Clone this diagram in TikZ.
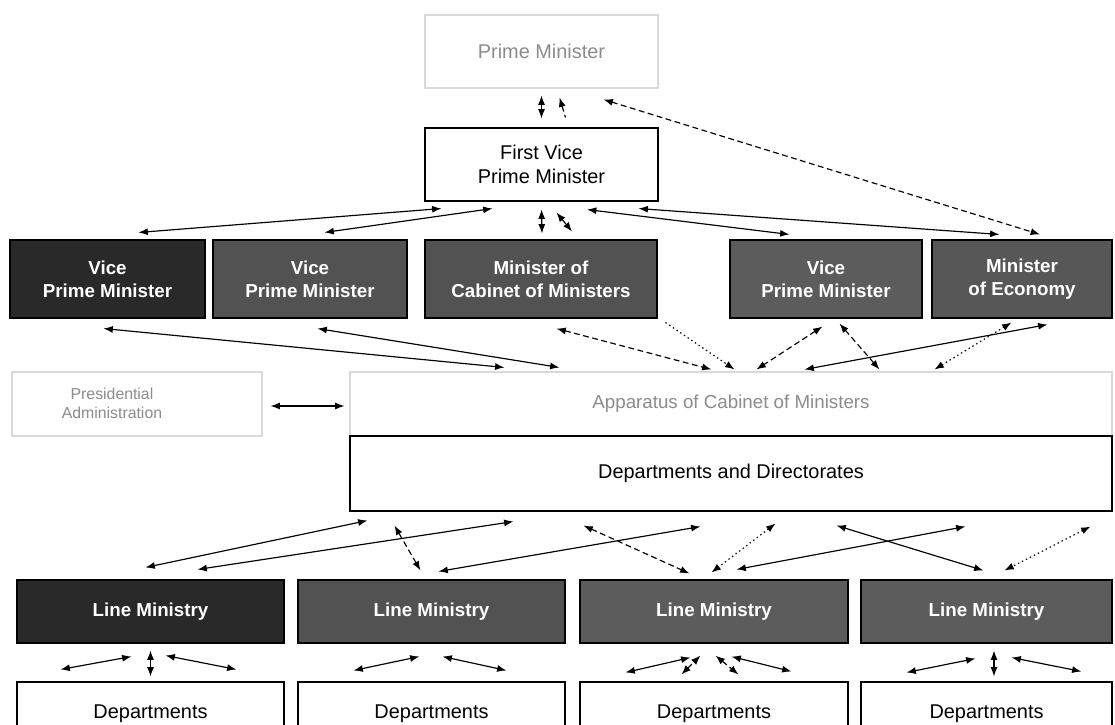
\documentclass[tikz,border=0pt]{standalone}
\usepackage{fontspec}
\setmainfont{Liberation Sans}
\usetikzlibrary{arrows.meta}
\begin{document}
\begin{tikzpicture}[x=0.03cm,y=-0.03cm,
  wh/.style 2 args={minimum width=#1*0.03cm, minimum height=#2*0.03cm},
  box/.style={draw, line width=0.9pt, rectangle, inner sep=0pt, align=center,
    font=\fontsize{17}{20.5}\selectfont},
  dark/.style={box, fill=black!68, text=white,
    font=\bfseries\fontsize{16}{19.5}\selectfont},
  darker/.style={dark, fill=black!84},
  faint/.style={box, draw=black!15, text=black!45},
  conn/.style={line width=1pt, {Latex[length=8pt,width=6pt]}-{Latex[length=8pt,width=6pt]}},
  dashconn/.style={conn, dash pattern=on 5pt off 3pt},
  dotconn/.style={conn, dash pattern=on 1.2pt off 2.6pt},
  oneway/.style={line width=1pt, -{Latex[length=8pt,width=6pt]}},
  backway/.style={line width=1pt, {Latex[length=8pt,width=6pt]}-}
]
\useasboundingbox (0,0) rectangle (1115,725);
\clip (0,0) rectangle (1115,725);
\fill[white] (0,0) rectangle (1115,725);

% top
\node[faint, wh={233}{73}] (pm) at (541.5,51.5) {Prime Minister};
\node[box, wh={233}{73}] (fvpm) at (541.5,164.5) {First Vice\\Prime Minister};

% row of ministers
\node[darker, wh={195}{78}] (vp1) at (107.5,279) {Vice\\Prime Minister};
\node[dark, wh={194}{78}] (vp2) at (310,279) {Vice\\Prime Minister};
\node[dark, wh={232}{78}] (mcm) at (541,279) {Minister of\\Cabinet of Ministers};
\node[dark, fill=black!64, wh={192}{78}] (vp3) at (826,279) {Vice\\Prime Minister};
\node[dark, fill=black!66, wh={180}{78}] (mec) at (1022,279) {Minister\\of Economy};

% administration and apparatus
\node[faint, wh={250}{64}] (presbox) at (137,404) {};
\node[text=black!45, font=\fontsize{13.5}{16}\selectfont, align=center] (prestext) at (112,403) {Presidential\\Administration};
\node[faint, font=\fontsize{16}{19}\selectfont, wh={762}{64}] (app) at (731,404) {Apparatus of Cabinet of Ministers};
\node[box, wh={762}{75}] (dd) at (731,473.5) {Departments and Directorates};

% line ministries
\node[darker, wh={267}{63}] (lm1) at (150.5,611.5) {Line Ministry};
\node[dark, wh={267}{63}] (lm2) at (431.5,611.5) {Line Ministry};
\node[dark, fill=black!64, wh={268}{63}] (lm3) at (714,611.5) {Line Ministry};
\node[dark, fill=black!64, wh={251}{63}] (lm4) at (986.5,611.5) {Line Ministry};

% departments
\node[box, wh={267}{64}] (d1) at (150.5,714) {Departments};
\node[box, wh={267}{64}] (d2) at (431.5,714) {Departments};
\node[box, wh={268}{64}] (d3) at (714,714) {Departments};
\node[box, wh={251}{64}] (d4) at (986.5,714) {Departments};

% PM -- FVPM
\draw[conn] ([shift={(0,7)}]pm.south) -- ([shift={(0,-9)}]fvpm.north);
\draw[backway, dash pattern=on 5pt off 3pt] ([shift={(18,9)}]pm.south) -- ([shift={(24,-10)}]fvpm.north);
\draw[dashconn] ([shift={(-55,11)}]pm.south east) -- ([shift={(18,-5)}]mec.north);

% FVPM -- row
\draw[conn] ([shift={(17,7)}]fvpm.south west) -- ([shift={(129,-7)}]vp1.north west);
\draw[conn] ([shift={(68,7)}]fvpm.south west) -- ([shift={(112,-7)}]vp2.north west);
\draw[conn] ([shift={(0,8)}]fvpm.south) -- ([shift={(1,-6)}]mcm.north);
\draw[dashconn] ([shift={(15,11)}]fvpm.south) -- ([shift={(31,-8)}]mcm.north);
\draw[conn] ([shift={(45.5,8)}]fvpm.south) -- ([shift={(60,-5)}]vp3.north west);
\draw[conn] ([shift={(-20,7)}]fvpm.south east) -- ([shift={(68,-5)}]mec.north west);

% row -- apparatus
\draw[conn] ([shift={(94,10)}]vp1.south west) -- ([shift={(155,-4)}]app.north west);
\draw[conn] ([shift={(105,10)}]vp2.south west) -- ([shift={(210,-4)}]app.north west);
\draw[dashconn] ([shift={(132,10)}]mcm.south west) -- ([shift={(362,-2)}]app.north west);
\draw[dotconn, oneway] ([shift={(8,4)}]mcm.south east) -- ([shift={(385,-2)}]app.north west);
\draw[dashconn] ([shift={(93,8)}]vp3.south west) -- ([shift={(407,-2)}]app.north west);
\draw[dashconn] ([shift={(110,5)}]vp3.south west) -- ([shift={(530,-2)}]app.north west);
\draw[conn] ([shift={(455,-2)}]app.north west) -- ([shift={(116,6)}]mec.south west);
\draw[dotconn] ([shift={(585,-2)}]app.north west) -- ([shift={(80,4)}]mec.south west);

% presidential administration -- apparatus
\draw[conn] ([shift={(8,2)}]presbox.east) -- ([shift={(-5,2)}]app.west);

% D&D -- line ministries
\draw[conn] ([shift={(129,-12)}]lm1.north west) -- ([shift={(18,9)}]dd.south west);
\draw[conn] ([shift={(181,-10)}]lm1.north west) -- ([shift={(164,10)}]dd.south west);
\draw[dashconn] ([shift={(123,-9)}]lm2.north west) -- ([shift={(45,14)}]dd.south west);
\draw[conn] ([shift={(141,-8)}]lm2.north west) -- ([shift={(351,15)}]dd.south west);
\draw[dashconn] ([shift={(234,14)}]dd.south west) -- ([shift={(110,-6)}]lm3.north west);
\draw[dotconn] ([shift={(426,12)}]dd.south west) -- ([shift={(132,-7)}]lm3.north west);
\draw[conn] ([shift={(157,-10)}]lm3.north west) -- ([shift={(616,15)}]dd.south west);
\draw[conn] ([shift={(487,14)}]dd.south west) -- ([shift={(123,-9)}]lm4.north west);
\draw[dotconn] ([shift={(741,15)}]dd.south west) -- ([shift={(144,-9)}]lm4.north west);

% line ministries -- departments
\draw[conn] ([shift={(44,-12)}]d1.north west) -- ([shift={(115,13)}]lm1.south west);
\draw[conn] ([shift={(0,7)}]lm1.south) -- ([shift={(0,-5)}]d1.north);
\draw[conn] ([shift={(149,12)}]lm1.south west) -- ([shift={(220,-12)}]d1.north west);

\draw[conn] ([shift={(56,-11)}]d2.north west) -- ([shift={(122,13)}]lm2.south west);
\draw[conn] ([shift={(145,13)}]lm2.south west) -- ([shift={(209,-11)}]d2.north west);

\draw[conn] ([shift={(46,-9)}]d3.north west) -- ([shift={(111,14)}]lm3.south west);
\draw[dashconn] ([shift={(102,-7)}]d3.north west) -- ([shift={(121,12)}]lm3.south west);
\draw[dashconn] ([shift={(136,12)}]lm3.south west) -- ([shift={(159,-7)}]d3.north west);
\draw[conn] ([shift={(152,13)}]lm3.south west) -- ([shift={(212,-10)}]d3.north west);

\draw[conn] ([shift={(46,-9)}]d4.north west) -- ([shift={(115,15)}]lm4.south west);
\draw[conn] ([shift={(7.5,7)}]lm4.south) -- ([shift={(7.5,-5)}]d4.north);
\draw[conn] ([shift={(151,14)}]lm4.south west) -- ([shift={(221,-10)}]d4.north west);
\end{tikzpicture}
\end{document}
